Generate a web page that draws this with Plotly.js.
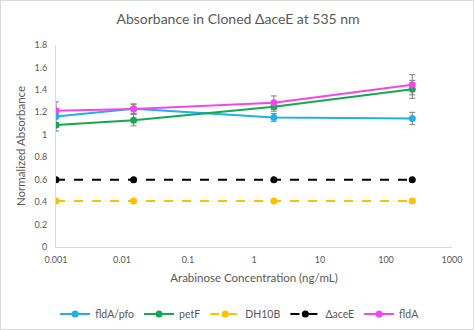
<!DOCTYPE html>
<html>
<head>
<meta charset="utf-8">
<script src="https://cdn.plot.ly/plotly-3.0.1.min.js"></script>
<style>
html,body{margin:0;padding:0;background:#fff;}
#chart{width:474px;height:330px;box-sizing:border-box;border:1px solid #d9d9d9;}
</style>
</head>
<body>
<div id="chart"></div>
<script>
const concentrations = [0.001, 0.015, 2, 250];
const seriesNames = ["fldA/pfo", "petF", "DH10B", "\u0394aceE", "fldA"];
const fldApfo = [1.163, 1.232, 1.155, 1.145];
const fldApfoErr = [0.13, 0.04, 0.035, 0.055];
const petF = [1.087, 1.13, 1.25, 1.405];
const petFErr = [0.02, 0.05, 0.04, 0.08];
const dh10b = [0.41, 0.41, 0.41, 0.41];
const dh10bErr = [0.01, 0.01, 0.01, 0.01];
const aceE = [0.60, 0.60, 0.60, 0.60];
const aceEErr = [0.005, 0.005, 0.005, 0.005];
const fldA = [1.214, 1.23, 1.286, 1.446];
const fldAErr = [0.02, 0.045, 0.06, 0.09];
const xTickVals = [0.001, 0.01, 0.1, 1, 10, 100, 1000];
const xTickText = ["0.001", "0.01", "0.1", "1", "10", "100", "1000"];
const yTickVals = [0, 0.2, 0.4, 0.6, 0.8, 1, 1.2, 1.4, 1.6, 1.8];
const yTickText = ["0", "0.2", "0.4", "0.6", "0.8", "1", "1.2", "1.4", "1.6", "1.8"];

const colors = ["#1FB0EC", "#14A850", "#FFC000", "#000000", "#F545F0"];
const ys = [fldApfo, petF, dh10b, aceE, fldA];
const errs = [fldApfoErr, petFErr, dh10bErr, aceEErr, fldAErr];
const dashes = ["solid", "solid", "dash", "dash", "solid"];

const traces = ys.map((y, i) => ({
  type: "scatter",
  mode: "lines+markers",
  name: seriesNames[i],
  x: concentrations,
  y: y,
  line: {color: colors[i], width: 2, dash: dashes[i]},
  marker: {color: colors[i], size: 7, symbol: "circle"},
  error_y: {type: "data", array: errs[i], visible: true, color: "#7f7f7f", thickness: 1, width: 3}
}));

const font = "Lato, 'Open Sans', sans-serif";
const layout = {
  width: 474, height: 330,
  margin: {l: 55, r: 23, t: 44, b: 84, autoexpand: false},
  paper_bgcolor: "rgba(0,0,0,0)",
  plot_bgcolor: "#fff",
  font: {family: font, color: "#595959", size: 10},
  title: {text: "Absorbance in Cloned \u0394aceE at 535 nm", font: {size: 14, color: "#595959", family: font}, x: 0.5, xanchor: "center", y: 0.945, yanchor: "middle"},
  xaxis: {
    type: "log", range: [-3, 3],
    tickvals: xTickVals, ticktext: xTickText,
    showgrid: false, zeroline: false,
    showline: true, linecolor: "#d9d9d9", linewidth: 1,
    ticks: "outside", ticklen: 4, tickcolor: "rgba(0,0,0,0)",
    tickfont: {size: 9, color: "#595959"},
    title: {text: "Arabinose Concentration (ng/mL)", font: {size: 11.5, color: "#595959"}, standoff: 10}
  },
  yaxis: {
    range: [0, 1.8],
    tickvals: yTickVals, ticktext: yTickText,
    showgrid: false, zeroline: false,
    showline: true, linecolor: "#d9d9d9", linewidth: 1,
    ticks: "outside", ticklen: 6, tickcolor: "rgba(0,0,0,0)",
    tickfont: {size: 9, color: "#595959"},
    title: {text: "Normalized Absorbance", font: {size: 11.5, color: "#595959"}, standoff: 6}
  },
  showlegend: true,
  legend: {orientation: "h", x: 0.465, xanchor: "center", y: -0.26, yanchor: "top", font: {size: 10.5, color: "#595959"}, itemwidth: 30, tracegroupgap: 0}
};

Plotly.newPlot("chart", traces, layout, {displayModeBar: false, staticPlot: true});
</script>
</body>
</html>
